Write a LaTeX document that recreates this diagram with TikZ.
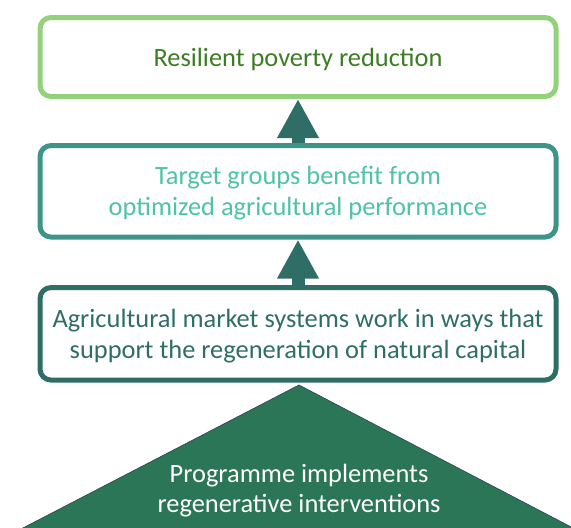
\documentclass[tikz,border=0pt]{standalone}
\usepackage{fontspec}
\setmainfont{Carlito}
\usetikzlibrary{arrows.meta}
\definecolor{lightgreen}{HTML}{93D17B}
\definecolor{darkgreen}{HTML}{3C7D24}
\definecolor{midteal}{HTML}{3E9488}
\definecolor{lightteal}{HTML}{4FC2AA}
\definecolor{darkteal}{HTML}{2F6E66}
\definecolor{basegreen}{HTML}{2B7657}
\definecolor{edgeblue}{HTML}{34465A}
\tikzset{
  goalbox/.style={draw, fill=white, rounded corners=11pt, line width=5pt,
    minimum width=516pt, align=center, text depth=0pt,
    font=\fontsize{26.4}{31}\selectfont},
  uparrow/.style={draw=darkteal, line width=13pt,
    -{Triangle[width=39pt,length=39pt]}},
}
\begin{document}
\begin{tikzpicture}[x=1pt, y=-1pt, line join=round]
\useasboundingbox (0,0) rectangle (571,528);
\clip (0,0) rectangle (571,528);
\node[goalbox, draw=lightgreen, text=darkgreen, minimum height=79pt] (R) at (298,57) {Resilient poverty reduction};
\node[goalbox, draw=midteal, text=lightteal, minimum height=91.5pt] (T) at (298,191.3) {Target groups benefit from\\optimized agricultural performance};
\node[goalbox, draw=darkteal, text=darkteal, minimum height=92.5pt] (M) at (298,333.8) {Agricultural market systems work in ways that\\support the regeneration of natural capital};
\draw[uparrow] (T.north) -- (R.south);
\draw[uparrow] (M.north) -- (T.south);
% base triangle
\coordinate (apex) at (299,385);
\coordinate (BL) at (21,529);
\coordinate (BR) at (575,529);
\fill[basegreen] (apex) -- (BL) -- (BR) -- cycle;
\draw[edgeblue, line width=0.7pt] (BL) -- (apex) -- (BR);
\node[text=white, align=center, font=\fontsize{26.4}{30}\selectfont] (P) at (299,491) {Programme implements\\regenerative interventions};
\end{tikzpicture}
\end{document}
